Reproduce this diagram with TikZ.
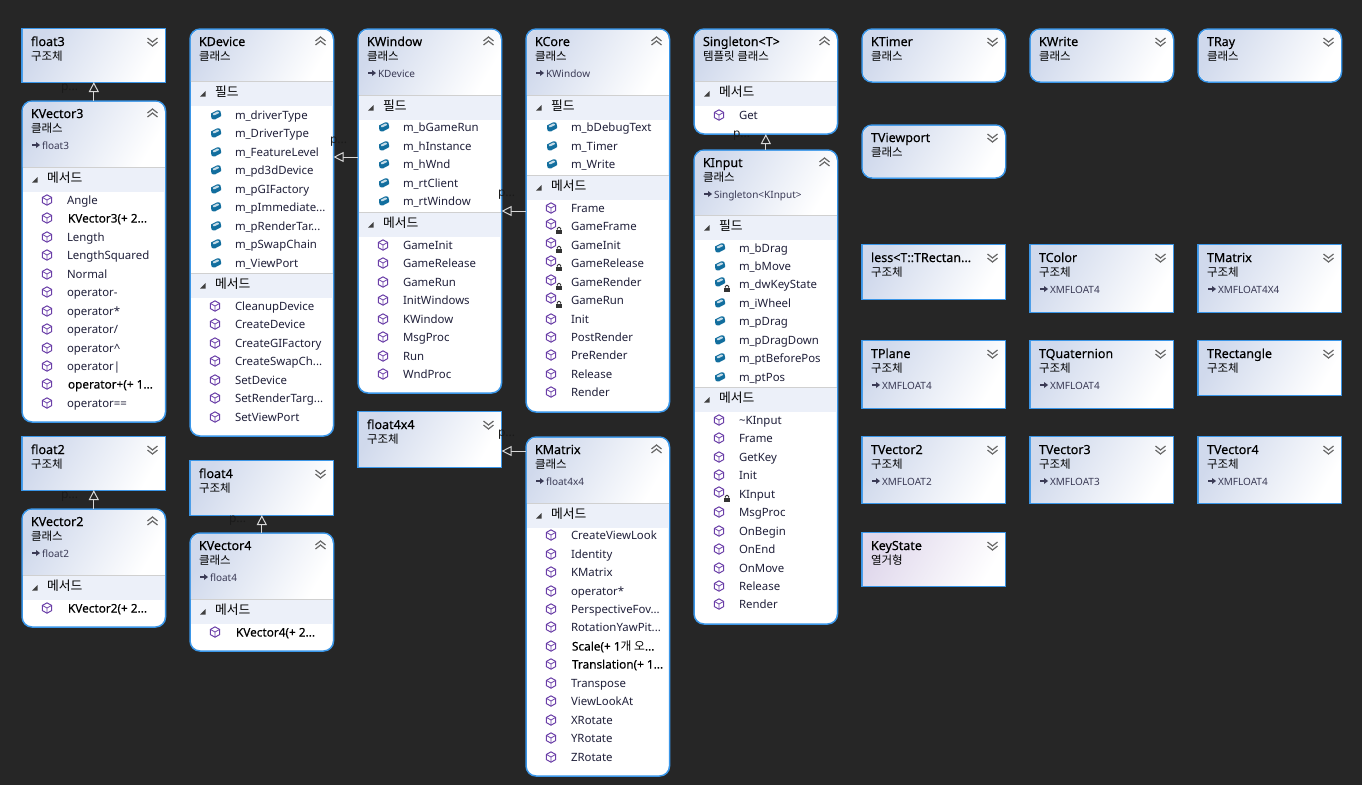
\documentclass[tikz,border=0pt]{standalone}
\usepackage{fontspec}
\setmainfont{Noto Sans}
\newfontfamily\kr{Noto Sans CJK KR}
\newfontfamily\semib[FakeBold=0.25]{Noto Sans}
\usetikzlibrary{arrows.meta}
\definecolor{bg}{HTML}{262626}
\definecolor{edgeblue}{HTML}{3A96E8}
\definecolor{hdleft}{HTML}{D0D9EC}
\definecolor{enumleft}{HTML}{E0D8EC}
\definecolor{bandc}{HTML}{ECF0F9}
\definecolor{hairline}{HTML}{D0D0D0}
\definecolor{purpleic}{HTML}{6B3FA8}
\definecolor{blueic}{HTML}{126E9E}
\definecolor{itemc}{HTML}{20203A}
\definecolor{basec}{HTML}{3A3A55}
\definecolor{chev}{HTML}{6A6A6A}
\definecolor{arrowc}{HTML}{D8D8D8}
\definecolor{plab}{HTML}{1A1A1A}
\newcounter{nn}
\tikzset{
  x=1pt,y=-1pt,
  lbl/.style={anchor=base west,inner sep=0pt,outer sep=0pt},
  titlet/.style={lbl,font=\semib\fontsize{12.5}{14}\selectfont,text=black},
  subt/.style={lbl,font=\kr\fontsize{11.5}{14}\selectfont,text=black},
  baset/.style={lbl,font=\fontsize{10}{12}\selectfont,text=basec},
  sect/.style={lbl,font=\kr\fontsize{12.8}{14}\selectfont,text=black},
  itemt/.style={lbl,font=\fontsize{11.4}{14}\selectfont,text=itemc},
  boldt/.style={lbl,font=\semib\fontsize{11.8}{14}\selectfont,text=black},
  plabel/.style={lbl,font=\fontsize{12}{14}\selectfont,text=plab},
  inherit/.style={draw=arrowc,line width=1pt,-{Triangle[open,length=10pt,width=10pt]}},
}
% #1 name, #2 x, #3 top, #4 bottom, #5 header end, #6 radius, #7 left colour
\newcommand{\boxbase}[7]{%
  \def\cx{#2}%
  \node[draw=edgeblue,line width=1.5pt,fill=white,rounded corners=#6pt,inner sep=0pt,outer sep=0pt,
        minimum width=143.5pt,minimum height={#4-#3}] (#1) at ({#2+71.8},{(#3+#4)/2}) {};
  \begin{scope}
    \clip[rounded corners=#6pt] ({#2+.8},{#3+.8}) rectangle ({#2+142.8},{#4-.8});
    \shade[left color=#7,right color=white,shading angle=60] ({#2+.8},{#3+.8}) rectangle ({#2+142.8},#5);
  \end{scope}
}
\newcommand{\chevup}[2]{%
  \draw[chev,line width=1.2pt] ({#1-5},{#2-1}) -- (#1,{#2-5}) -- ({#1+5},{#2-1});
  \draw[chev,line width=1.2pt] ({#1-5},{#2+3}) -- (#1,{#2-1}) -- ({#1+5},{#2+3});}
\newcommand{\chevdn}[2]{%
  \draw[chev,line width=1.2pt] ({#1-5},{#2-3}) -- (#1,{#2+1}) -- ({#1+5},{#2-3});
  \draw[chev,line width=1.2pt] ({#1-5},{#2+1}) -- (#1,{#2+5}) -- ({#1+5},{#2+1});}
\newcommand{\head}[3]{% title, subtitle, base
  \stepcounter{nn}\node[titlet] (n\arabic{nn}) at ({\cx+9},{\ctop+17}) {#1};
  \stepcounter{nn}\node[subt] (n\arabic{nn}) at ({\cx+9},{\ctop+31.5}) {\kr #2};
  \if\relax\detokenize{#3}\relax\else
    \fill[basec] ({\cx+10},{\ctop+43.4}) rectangle ({\cx+15},{\ctop+44.6});
    \fill[basec] ({\cx+14},{\ctop+41}) -- ({\cx+18},{\ctop+44}) -- ({\cx+14},{\ctop+47}) -- cycle;
    \stepcounter{nn}\node[baset] (n\arabic{nn}) at ({\cx+20},{\ctop+48}) {#3};
  \fi}
% class with members: name,x,top,bottom,header end,title,sub,base
\newcommand{\cls}[8]{%
  \def\ctop{#3}\boxbase{#1}{#2}{#3}{#4}{#5}{10}{hdleft}%
  \head{#6}{#7}{#8}\chevup{#2+130.5}{#3+13}}
% collapsed: name,x,top,bottom,radius,left colour,title,sub,base
\newcommand{\col}[9]{%
  \def\ctop{#3}\boxbase{#1}{#2}{#3}{#4}{#4-.8}{#5}{#6}%
  \head{#7}{#8}{#9}\chevdn{#2+130.5}{#3+12}}
\newcommand{\band}[2]{% top y, text
  \fill[bandc] ({\cx+.8},#1) rectangle ({\cx+142.8},{#1+25});
  \draw[hairline,line width=.8pt] ({\cx+.8},#1) -- ({\cx+142.8},#1);
  \fill[black!75] ({\cx+15.5},{#1+10}) -- ({\cx+15.5},{#1+15.5}) -- ({\cx+10},{#1+15.5}) -- cycle;
  \stepcounter{nn}\node[sect] (n\arabic{nn}) at ({\cx+25},{#1+15.5}) {#2};}
\newcommand{\micon}[1]{%
  \begin{scope}[shift={({\cx+25},#1)}]
    \draw[purpleic,line width=1pt,line join=round] (0,-5.2) -- (4.6,-2.6) -- (4.6,2.6) -- (0,5.2) -- (-4.6,2.6) -- (-4.6,-2.6) -- cycle;
    \draw[purpleic,line width=.8pt] (-4.6,-2.6) -- (0,0) -- (4.6,-2.6) (0,0) -- (0,5.2);
  \end{scope}}
\newcommand{\ficon}[1]{%
  \begin{scope}[shift={({\cx+26},#1)}]
    \fill[blueic] (-5,-1.6) -- (1,-4.6) .. controls (4,-5) and (5.5,-3.5) .. (5,-1) -- (5,1.2) -- (-1,4.4) .. controls (-4,4.8) and (-5.5,3) .. (-5,1) -- cycle;
    \fill[white!75!blueic] (-3.2,-1.2) -- (1,-3.4) .. controls (2.4,-3.6) and (3.4,-3) .. (3,-2) -- (-1,0) .. controls (-2.4,.4) and (-3.6,0) .. (-3.2,-1.2) -- cycle;
  \end{scope}}
\newcommand{\lockic}[1]{%
  \begin{scope}[shift={({\cx+33},{#1+4.5})}]
    \fill[black!80] (-2.8,-.8) rectangle (2.8,3);
    \draw[black!80,line width=.9pt] (-1.6,-.8) -- (-1.6,-2.2) .. controls (-1.6,-3.6) and (1.6,-3.6) .. (1.6,-2.2) -- (1.6,-.8);
  \end{scope}}
\newcommand{\itm}[2]{\stepcounter{nn}\node[itemt] (n\arabic{nn}) at ({\cx+45},{#1+4.5}) {#2};}
\newcommand{\M}[2]{\micon{#1}\itm{#1}{#2}}
\newcommand{\ML}[2]{\micon{#1-2}\lockic{#1}\itm{#1}{#2}}
\newcommand{\MB}[2]{\micon{#1}\stepcounter{nn}\node[boldt] (n\arabic{nn}) at ({\cx+46},{#1+4.5}) {#2};}
\newcommand{\F}[2]{\ficon{#1}\itm{#1}{#2}}
\newcommand{\FL}[2]{\ficon{#1-2}\lockic{#1}\itm{#1}{#2}}
\begin{document}
\begin{tikzpicture}
\fill[bg] (0,0) rectangle (1362,785);
\useasboundingbox (0,0) rectangle (1362,785);

% column 1
\col{float3}{22}{29}{82}{0}{hdleft}{float3}{구조체}{}
\cls{KVector3}{22}{101}{422}{166}{KVector3}{클래스}{float3}
\band{167}{메서드}
\M{200}{Angle}\MB{218}{KVector3(+ 2...}\M{237}{Length}\M{255}{LengthSquared}\M{274}{Normal}
\M{292}{operator-}\M{311}{operator*}\M{329}{operator/}\M{348}{operator\^{}}\M{366}{operator|}
\MB{384}{operator+(+ 1...}\M{403}{operator==}
\col{float2}{22}{437}{490}{0}{hdleft}{float2}{구조체}{}
\cls{KVector2}{22}{509}{627}{574}{KVector2}{클래스}{float2}
\band{575}{메서드}
\MB{608}{KVector2(+ 2...}

% column 2
\cls{KDevice}{190}{29}{436}{81}{KDevice}{클래스}{}
\band{81}{필드}
\F{115}{m\_driverType}\F{133}{m\_DriverType}\F{152}{m\_FeatureLevel}\F{170}{m\_pd3dDevice}
\F{189}{m\_pGIFactory}\F{207}{m\_pImmediate...}\F{226}{m\_pRenderTar...}\F{244}{m\_pSwapChain}\F{263}{m\_ViewPort}
\band{273}{메서드}
\M{306}{CleanupDevice}\M{324}{CreateDevice}\M{343}{CreateGIFactory}\M{361}{CreateSwapCh...}
\M{380}{SetDevice}\M{398}{SetRenderTarg...}\M{417}{SetViewPort}
\col{float4}{190}{461}{515}{0}{hdleft}{float4}{구조체}{}
\cls{KVector4}{190}{533}{651}{598}{KVector4}{클래스}{float4}
\band{599}{메서드}
\MB{632}{KVector4(+ 2...}

% column 3
\cls{KWindow}{358}{29}{393}{94}{KWindow}{클래스}{KDevice}
\band{95}{필드}
\F{127}{m\_bGameRun}\F{146}{m\_hInstance}\F{164}{m\_hWnd}\F{183}{m\_rtClient}\F{201}{m\_rtWindow}
\band{212}{메서드}
\M{245}{GameInit}\M{263}{GameRelease}\M{282}{GameRun}\M{300}{InitWindows}\M{319}{KWindow}
\M{337}{MsgProc}\M{356}{Run}\M{374}{WndProc}
\col{float4x4}{358}{412}{467}{0}{hdleft}{float4x4}{구조체}{}

% column 4
\cls{KCore}{526}{29}{412}{94}{KCore}{클래스}{KWindow}
\band{95}{필드}
\F{127}{m\_bDebugText}\F{146}{m\_Timer}\F{164}{m\_Write}
\band{175}{메서드}
\M{208}{Frame}\ML{226}{GameFrame}\ML{245}{GameInit}\ML{263}{GameRelease}\ML{282}{GameRender}
\ML{300}{GameRun}\M{319}{Init}\M{337}{PostRender}\M{355}{PreRender}\M{374}{Release}\M{392}{Render}
\cls{KMatrix}{526}{437}{776}{502}{KMatrix}{클래스}{float4x4}
\band{503}{메서드}
\M{535}{CreateViewLook}\M{554}{Identity}\M{572}{KMatrix}\M{591}{operator*}\M{609}{PerspectiveFov...}
\M{627}{RotationYawPit...}\MB{646}{Scale(+ 1{\kr 개 오}...}\MB{664}{Translation(+ 1...}
\M{683}{Transpose}\M{701}{ViewLookAt}\M{720}{XRotate}\M{738}{YRotate}\M{757}{ZRotate}

% column 5
\cls{Singleton}{694}{29}{134}{81}{Singleton<T>}{템플릿 클래스}{}
\band{81}{메서드}
\M{115}{Get}
\cls{KInput}{694}{150}{624}{214}{KInput}{클래스}{Singleton<KInput>}
\band{215}{필드}
\F{248}{m\_bDrag}\F{266}{m\_bMove}\FL{284}{m\_dwKeyState}\F{303}{m\_iWheel}\F{321}{m\_pDrag}
\F{340}{m\_pDragDown}\F{358}{m\_ptBeforePos}\F{377}{m\_ptPos}
\band{387}{메서드}
\M{420}{\textasciitilde KInput}\M{438}{Frame}\M{457}{GetKey}\M{475}{Init}\ML{494}{KInput}\M{512}{MsgProc}
\M{531}{OnBegin}\M{549}{OnEnd}\M{568}{OnMove}\M{586}{Release}\M{604}{Render}

% collapsed rest
\col{KTimer}{862}{29}{82}{10}{hdleft}{KTimer}{클래스}{}
\col{KWrite}{1030}{29}{82}{10}{hdleft}{KWrite}{클래스}{}
\col{TRay}{1198}{29}{82}{10}{hdleft}{TRay}{클래스}{}
\col{TViewport}{862}{125}{178}{10}{hdleft}{TViewport}{클래스}{}
\col{lessT}{862}{245}{299}{0}{hdleft}{less<T::TRectan...}{구조체}{}
\col{TColor}{1030}{245}{312}{0}{hdleft}{TColor}{구조체}{XMFLOAT4}
\col{TMatrix}{1198}{245}{312}{0}{hdleft}{TMatrix}{구조체}{XMFLOAT4X4}
\col{TPlane}{862}{341}{408}{0}{hdleft}{TPlane}{구조체}{XMFLOAT4}
\col{TQuaternion}{1030}{341}{408}{0}{hdleft}{TQuaternion}{구조체}{XMFLOAT4}
\col{TRectangle}{1198}{341}{395}{0}{hdleft}{TRectangle}{구조체}{}
\col{TVectorB}{862}{437}{503}{0}{hdleft}{TVector2}{구조체}{XMFLOAT2}
\col{TVectorC}{1030}{437}{503}{0}{hdleft}{TVector3}{구조체}{XMFLOAT3}
\col{TVectorD}{1198}{437}{503}{0}{hdleft}{TVector4}{구조체}{XMFLOAT4}
\col{KeyState}{862}{533}{586}{0}{enumleft}{KeyState}{열거형}{}

% connectors
\draw[inherit] (KVector3.north) -- (float3.south);
\draw[inherit] (KVector2.north) -- (float2.south);
\draw[inherit] (KVector4.north) -- (float4.south);
\draw[inherit] (KInput.north) -- (Singleton.south);
\coordinate (wy) at (0,157);
\coordinate (cy) at (0,211);
\coordinate (my) at (0,451);
\draw[inherit] (KWindow.west |- wy) -- (KDevice.east |- wy);
\draw[inherit] (KCore.west |- cy) -- (KWindow.east |- cy);
\draw[inherit] (KMatrix.west |- my) -- (float4x4.east |- my);

% inheritance labels
\node[plabel] (p1) at (61,90) {p...};
\node[plabel] (p2) at (61,498) {p...};
\node[plabel] (p3) at (229,522) {p...};
\node[plabel] (p4) at (330,143) {p...};
\node[plabel] (p5) at (498,196) {p...};
\node[plabel] (p6) at (498,436) {p...};
\node[plabel] (p7) at (733,137) {p...};
\end{tikzpicture}
\end{document}
